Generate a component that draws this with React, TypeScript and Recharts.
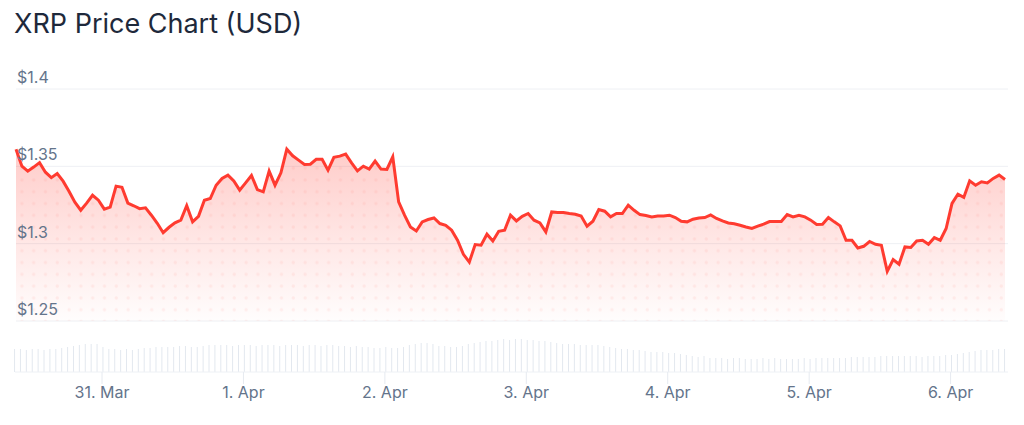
import React from 'react'
import { AreaChart, Area, BarChart, Bar, XAxis, YAxis, CartesianGrid } from 'recharts'

// hourly samples, first one at 30 Mar 09:14 UTC
const START_TIME = Date.UTC(2026, 2, 30, 9, 14)
const HOUR = 3600 * 1000

const PRICES = [
  1.3611, 1.3501, 1.3469, 1.3495, 1.3524, 1.3462, 1.3427, 1.3453, 1.3404, 1.3339,
  1.3268, 1.3216, 1.3262, 1.3313, 1.3281, 1.3223, 1.3236, 1.3372, 1.3365, 1.3262,
  1.3245, 1.3226, 1.3232, 1.3184, 1.3132, 1.3071, 1.3106, 1.3135, 1.3152, 1.3245,
  1.3141, 1.3177, 1.3281, 1.3292, 1.3378, 1.3422, 1.3443, 1.3406, 1.3346, 1.3393,
  1.3441, 1.335, 1.3335, 1.3469, 1.3378, 1.3458, 1.3611, 1.3568, 1.354, 1.3512,
  1.3514, 1.3545, 1.3545, 1.3475, 1.3558, 1.3566, 1.3579, 1.3522, 1.3471, 1.3501,
  1.3482, 1.3534, 1.3482, 1.348, 1.3562, 1.327, 1.3184, 1.3108, 1.3082, 1.3141,
  1.3156, 1.3166, 1.313, 1.3119, 1.3087, 1.3022, 1.2931, 1.2881, 1.2994, 1.299,
  1.3061, 1.3017, 1.308, 1.3087, 1.3184, 1.3147, 1.3177, 1.3195, 1.3152, 1.3134,
  1.3076, 1.3205, 1.3201, 1.3201, 1.3195, 1.319, 1.3179, 1.3113, 1.3145, 1.3221,
  1.321, 1.3173, 1.3195, 1.3195, 1.3249, 1.3216, 1.3188, 1.3182, 1.3173, 1.3179,
  1.3179, 1.3184, 1.3169, 1.3145, 1.3141, 1.3158, 1.3166, 1.3169, 1.3186, 1.3163,
  1.3147, 1.3134, 1.3129, 1.3119, 1.3108, 1.3098, 1.3113, 1.3126, 1.3143, 1.3143,
  1.3143, 1.3188, 1.3173, 1.3184, 1.3173, 1.3152, 1.3124, 1.3126, 1.3169, 1.3141,
  1.3115, 1.3022, 1.3022, 1.2972, 1.2983, 1.3014, 1.2996, 1.299, 1.2821, 1.2897,
  1.2867, 1.2979, 1.2975, 1.3017, 1.3022, 1.2996, 1.3039, 1.3022, 1.3098, 1.326,
  1.332, 1.3299, 1.3406, 1.3378, 1.34, 1.3393, 1.3422, 1.3443, 1.3415,
]

// volume, millions
const VOLUMES = [
  23, 23, 22, 23, 23, 22, 23, 23,
  24, 25, 26, 27, 28, 28,
  28, 25, 23, 23, 22, 23, 22, 23,
  24, 24, 25, 25, 25, 25, 26, 26, 25, 25,
  26, 27, 27, 27, 27, 26, 27, 27, 27, 26, 27,
  27, 27, 26, 27, 27, 27, 26, 27, 27, 26, 27, 27,
  26, 26, 25, 26, 25, 25,
  24, 24, 25, 24, 24,
  25, 27, 28, 29, 29, 28,
  26, 26, 25, 25, 26,
  28, 29, 30, 31, 31, 32, 33, 32,
  33, 33, 32, 32, 31, 31,
  30, 29, 28, 28, 28, 27, 27, 27, 27, 26,
  25, 24, 23, 23, 22, 22,
  21, 20, 20, 20, 19, 19, 18,
  17, 16, 15, 16, 14, 14, 14, 13, 14, 14, 13, 13, 13, 14, 13, 14, 13, 13, 13, 13, 14, 13,
  14, 14, 14, 14, 14, 14, 15, 15, 15, 15, 15,
  16, 16, 16, 16, 16, 16, 16, 15, 16, 16, 16, 17,
  17, 18, 19, 20, 21, 22, 22, 22, 23, 23,
]

const PRICE_TICKS = [1.25, 1.3, 1.35, 1.4]
const DATE_TICKS = [
  Date.UTC(2026, 2, 31),
  Date.UTC(2026, 3, 1),
  Date.UTC(2026, 3, 2),
  Date.UTC(2026, 3, 3),
  Date.UTC(2026, 3, 4),
  Date.UTC(2026, 3, 5),
  Date.UTC(2026, 3, 6),
]
const DATE_LABELS = ['31. Mar', '1. Apr', '2. Apr', '3. Apr', '4. Apr', '5. Apr', '6. Apr']

const data = PRICES.map((price, i) => ({
  t: START_TIME + i * HOUR,
  price,
  volume: VOLUMES[i],
}))

const LINE_RED = '#ff3b30'
const LABEL_GREY = '#64748b'

function renderPriceTick(props: any) {
  const { y, payload, index } = props
  return (
    <text
      key={'pt' + index}
      x={17}
      y={y - 6}
      fill={LABEL_GREY}
      fontSize={16}
      fontFamily="Inter, sans-serif"
      textAnchor="start"
    >
      {'$' + payload.value}
    </text>
  )
}

export default function App() {
  return (
    <div
      style={{
        position: 'relative',
        width: 1024,
        height: 425,
        background: '#fff',
        fontFamily: 'Inter, sans-serif',
      }}
    >
      <style>{'body{margin:0}'}</style>
      <div
        style={{
          position: 'absolute',
          left: 14,
          top: 10,
          fontSize: 27,
          lineHeight: '27px',
          color: '#1e293b',
          whiteSpace: 'nowrap',
        }}
      >
        XRP Price Chart (USD)
      </div>

      <div style={{ position: 'absolute', left: 0, top: 0 }}>
        <AreaChart
          width={1024}
          height={330}
          data={data}
          margin={{ top: 89, right: 16, left: 15, bottom: 9 }}
        >
          <defs>
            <linearGradient id="priceFill" x1="0" y1="0" x2="0" y2="1">
              <stop offset="0%" stopColor={LINE_RED} stopOpacity={0.26} />
              <stop offset="55%" stopColor={LINE_RED} stopOpacity={0.12} />
              <stop offset="100%" stopColor={LINE_RED} stopOpacity={0.01} />
            </linearGradient>
            <pattern id="priceDots" width={11.8} height={11.8} patternUnits="userSpaceOnUse">
              <circle cx={10.1} cy={2.9} r={1.7} fill={LINE_RED} fillOpacity={0.07} />
            </pattern>
          </defs>
          <CartesianGrid vertical={false} stroke="#eef0f4" />
          <XAxis
            dataKey="t"
            type="number"
            domain={['dataMin', 'dataMax']}
            padding={{ left: 0, right: 3 }}
            hide
          />
          <YAxis
            domain={[1.25, 1.4]}
            ticks={PRICE_TICKS}
            interval={0}
            width={1}
            axisLine={false}
            tickLine={false}
            tick={renderPriceTick}
            allowDataOverflow
          />
          <Area
            type="linear"
            dataKey="price"
            stroke="none"
            fill="url(#priceDots)"
            fillOpacity={1}
            isAnimationActive={false}
          />
          <Area
            type="linear"
            dataKey="price"
            stroke={LINE_RED}
            strokeWidth={3}
            fill="url(#priceFill)"
            fillOpacity={1}
            dot={false}
            activeDot={false}
            isAnimationActive={false}
          />
        </AreaChart>
      </div>

      <div style={{ position: 'absolute', left: 0, top: 330 }}>
        <BarChart
          width={1024}
          height={80}
          data={data}
          margin={{ top: 2, right: 16, left: 15, bottom: 0 }}
        >
          <XAxis
            dataKey="t"
            type="number"
            domain={['dataMin', 'dataMax']}
            padding={{ left: 0, right: 3 }}
            ticks={DATE_TICKS}
            interval={0}
            tickFormatter={(v: number) => DATE_LABELS[DATE_TICKS.indexOf(v)]}
            height={38}
            stroke="#eef1f5"
            tickSize={12}
            tickMargin={3}
            tickLine={{ stroke: '#e6eaf0' }}
            tick={{ fill: LABEL_GREY, fontSize: 16, fontFamily: 'Inter, sans-serif' }}
          />
          <YAxis hide domain={[0, 40]} />
          <Bar dataKey="volume" fill="#e3e8ef" barSize={1} isAnimationActive={false} />
        </BarChart>
      </div>
    </div>
  )
}
